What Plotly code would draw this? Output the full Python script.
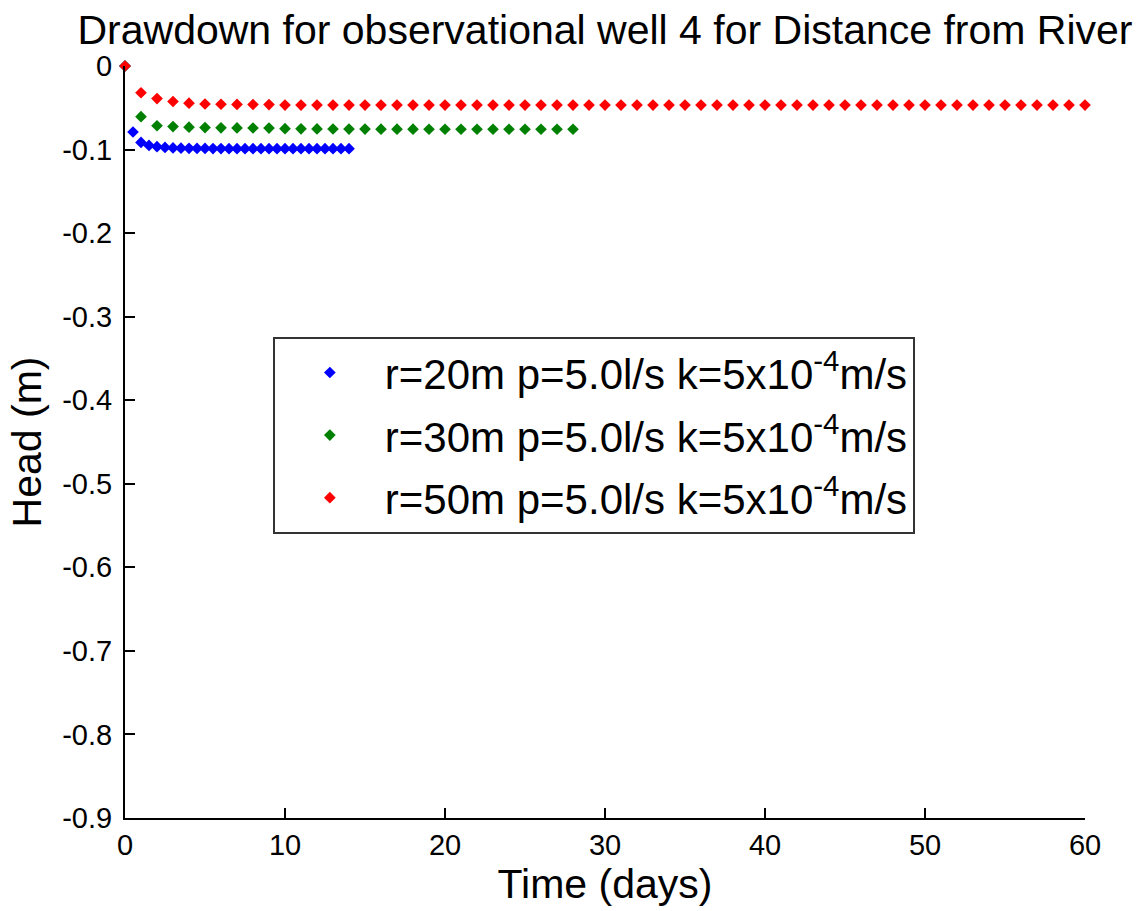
import plotly.graph_objects as go

# ---- data ----
t_blue = [0, 0.5, 1, 1.5, 2, 2.5, 3, 3.5, 4, 4.5, 5, 5.5, 6, 6.5, 7, 7.5, 8, 8.5, 9, 9.5,
          10, 10.5, 11, 11.5, 12, 12.5, 13, 13.5, 14]
h_blue = [0, -0.0790, -0.0915, -0.0950, -0.0965, -0.0975, -0.0980, -0.0983, -0.0985, -0.0986,
          -0.0987, -0.0988, -0.0988, -0.0989, -0.0989, -0.0989, -0.0990, -0.0990, -0.0990, -0.0990,
          -0.0990, -0.0990, -0.0990, -0.0990, -0.0990, -0.0990, -0.0990, -0.0990, -0.0990]

t_green = list(range(0, 29))
h_green = [0, -0.0607, -0.0715, -0.0725, -0.0732, -0.0737, -0.0740, -0.0741, -0.0742, -0.0743,
           -0.0750, -0.0752, -0.0753, -0.0754, -0.0755, -0.0755, -0.0756, -0.0756, -0.0756, -0.0757,
           -0.0757, -0.0757, -0.0757, -0.0757, -0.0757, -0.0757, -0.0757, -0.0757, -0.0757]

t_red = list(range(0, 61))
h_red = [0, -0.0320, -0.0390, -0.0425, -0.0445, -0.0455, -0.0458, -0.0460, -0.0461, -0.0462] + \
        [-0.0468] * 51

series_names = [
    "r=20m p=5.0l/s k=5x10<sup>-4</sup>m/s",
    "r=30m p=5.0l/s k=5x10<sup>-4</sup>m/s",
    "r=50m p=5.0l/s k=5x10<sup>-4</sup>m/s",
]
series_colors = ["#0000ff", "#008000", "#ff0000"]

x_ticks = [0, 10, 20, 30, 40, 50, 60]
y_ticks = [0, -0.1, -0.2, -0.3, -0.4, -0.5, -0.6, -0.7, -0.8, -0.9]
y_ticklabels = ["0", "-0.1", "-0.2", "-0.3", "-0.4", "-0.5", "-0.6", "-0.7", "-0.8", "-0.9"]

fig = go.Figure()
for i, (tx, hy) in enumerate([(t_blue, h_blue), (t_green, h_green), (t_red, h_red)]):
    fig.add_trace(go.Scatter(
        x=tx, y=hy, mode="markers", name=series_names[i],
        legendgroup=f"g{i}",
        marker=dict(symbol="diamond", size=9, color=series_colors[i], line=dict(width=0)),
        cliponaxis=False,
    ))

font_family = "Liberation Sans, Arial, sans-serif"
fig.update_layout(
    width=1140, height=911,
    margin=dict(l=125, r=55, t=66, b=93),
    paper_bgcolor="white", plot_bgcolor="white",
    font=dict(family=font_family, color="black"),
    title=dict(text="Drawdown for observational well 4 for Distance from River",
               x=0.5, xref="paper", y=1 - 30 / 911, yref="container",
               xanchor="center", yanchor="middle",
               font=dict(size=41, family=font_family, color="black")),
    showlegend=True,
    legend=dict(x=0.154, y=0.64, xanchor="left", yanchor="top",
                bgcolor="white", bordercolor="#333333", borderwidth=2,
                font=dict(size=42, family=font_family, color="black"),
                tracegroupgap=5, itemwidth=100),
)
fig.update_xaxes(
    range=[0, 60], tickvals=x_ticks, ticktext=[str(v) for v in x_ticks],
    ticks="inside", ticklen=10, tickwidth=1.5, tickcolor="black",
    showline=True, linecolor="black", linewidth=2, mirror=False,
    showgrid=False, zeroline=False,
    tickfont=dict(size=29, family=font_family, color="black"),
    title=dict(text="Time (days)", font=dict(size=41, family=font_family, color="black"), standoff=10),
)
fig.update_yaxes(
    range=[-0.9, 0], tickvals=y_ticks, ticktext=y_ticklabels,
    ticks="inside", ticklen=10, tickwidth=1.5, tickcolor="black",
    showline=True, linecolor="black", linewidth=2, mirror=False,
    showgrid=False, zeroline=False, ticklabelstandoff=5,
    tickfont=dict(size=29, family=font_family, color="black"),
    title=dict(text="Head (m)", font=dict(size=41, family=font_family, color="black"), standoff=8),
)

fig.write_html("out.html")
